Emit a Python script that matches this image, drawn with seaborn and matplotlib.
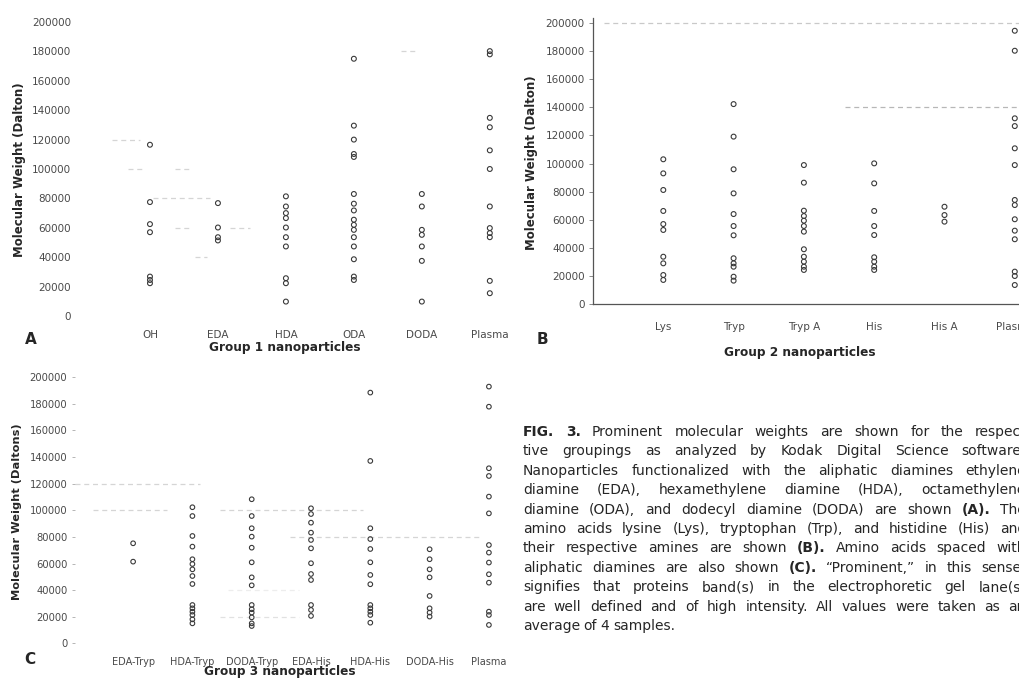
import numpy as np
import pandas as pd
import matplotlib
matplotlib.use("Agg")
import matplotlib.pyplot as plt
import seaborn as sns

# ---------------- data ----------------
# Panel A: Group 1 nanoparticles
a_categories = ["OH", "EDA", "HDA", "ODA", "DODA", "Plasma"]
a_oh = [116500, 77500, 62500, 57000, 26800, 24500, 22300]
a_eda = [76800, 60200, 53600, 51400]
a_hda = [81400, 74500, 70000, 66600, 60200, 53600, 47300, 25700, 22300, 9800]
a_oda = [175000, 129500, 120000, 110200, 108200, 83000, 76400, 71800, 65500,
         62000, 58600, 53600, 47300, 38600, 26800, 24500]
a_doda = [83000, 74500, 58600, 55200, 47300, 37500, 9800]
a_plasma = [180200, 178000, 134800, 128400, 112700, 100000, 74500, 59800,
            56400, 53600, 23900, 15500]

# Panel B: Group 2 nanoparticles
b_categories = ["Lys", "Tryp", "Tryp A", "His", "His A", "Plasma"]
b_lys = [103000, 93000, 81200, 66300, 57000, 52800, 33800, 29100, 20800, 17300]
b_tryp = [142200, 119100, 95900, 78800, 64100, 55600, 49000, 32700, 29100,
          26700, 19600, 16800]
b_tryp_a = [98900, 86400, 66500, 62700, 59400, 55600, 51600, 39100, 33800,
            30300, 26700, 24400]
b_his = [100100, 85900, 66300, 55600, 49200, 33400, 30300, 26700, 24400]
b_his_a = [69300, 63400, 58700]
b_plasma = [194300, 180100, 132100, 126600, 110800, 98900, 74100, 70500,
            60400, 52300, 46200, 23200, 20100, 13700]

# Panel C: Group 3 nanoparticles
c_categories = ["EDA-Tryp", "HDA-Tryp", "DODA-Tryp", "EDA-His", "HDA-His",
                "DODA-His", "Plasma"]
c_eda_tryp = [75200, 61400]
c_hda_tryp = [102300, 95700, 80700, 72700, 63200, 59600, 55600, 50600, 44600,
              28800, 26300, 23800, 21300, 18000, 15000]
c_doda_tryp = [108300, 95700, 86500, 80200, 71900, 60900, 49600, 43600, 28800,
               25600, 23100, 19500, 15000, 13000]
c_eda_his = [101500, 97200, 90700, 83200, 77700, 71400, 60200, 52100, 47600,
             28800, 25100, 20600]
c_hda_his = [188500, 137100, 86500, 78400, 70900, 60900, 51400, 44400, 28800,
             26300, 23800, 21300, 15500]
c_doda_his = [70700, 63200, 55600, 49600, 35600, 26300, 23100, 20100]
c_plasma = [193000, 177900, 131600, 125800, 110300, 97700, 73900, 68200,
            60700, 51900, 45600, 23800, 21300, 13800]

y_ticks = list(range(0, 200001, 20000))

caption_lines = [
    "FIG. 3. Prominent molecular weights are shown for the respec-",
    "tive groupings as analyzed by Kodak Digital Science software.",
    "Nanoparticles functionalized with the aliphatic diamines ethylene",
    "diamine (EDA), hexamethylene diamine (HDA), octamethylene",
    "diamine (ODA), and dodecyl diamine (DODA) are shown (A). The",
    "amino acids lysine (Lys), tryptophan (Trp), and histidine (His) and",
    "their respective amines are shown (B). Amino acids spaced with",
    "aliphatic diamines are also shown (C). \u201cProminent,\u201d in this sense,",
    "signifies that proteins band(s) in the electrophoretic gel lane(s)",
    "are well defined and of high intensity. All values were taken as an",
    "average of 4 samples.",
]
bold_words = {"FIG.", "3.", "(A).", "(B).", "(C)."}

# ---------------- style ----------------
sns.set_style("white")
plt.rcParams["font.family"] = ["DejaVu Sans"]

W, H = 1019, 679
fig = plt.figure(figsize=(W / 100, H / 100), dpi=100)
fig.patch.set_facecolor("white")

TXT = "#262626"
TICK = "#4a4a4a"
PT = "#3a3a3a"


def px_axes(left, top, right, bottom):
    return fig.add_axes([left / W, 1 - bottom / H, (right - left) / W, (bottom - top) / H])


def long_df(cats, vals):
    return pd.DataFrame({
        "cat": np.repeat(cats, [len(v) for v in vals]),
        "mw": np.concatenate([np.asarray(v, float) for v in vals]),
    })


def strip(ax, cats, vals, size=3.5):
    df = long_df(cats, vals)
    sns.stripplot(data=df, x="cat", y="mw", order=cats, jitter=False,
                  size=size, color=PT, linewidth=0.8, edgecolor=PT, ax=ax,
                  zorder=3)
    for c in ax.collections:
        c.set_facecolor("none")
        c.set_edgecolor(PT)
        c.set_linewidth(0.8)
    ax.set_xlabel("")
    ax.set_ylabel("")
    ax.set_yticks(y_ticks)
    ax.set_yticklabels([str(v) for v in y_ticks])


def faint(ax, y, x0, x1, alpha=0.35, lw=0.9):
    ax.hlines(y, x0, x1, colors="#888888", linestyles=(0, (4, 3)),
              linewidth=lw, alpha=alpha, zorder=1)


# ---------------- Panel A ----------------
axA = px_axes(82, 17.6, 517, 320.4)
strip(axA, a_categories, [a_oh, a_eda, a_hda, a_oda, a_doda, a_plasma])
axA.set_xlim(-1.0, 5.4)
axA.set_ylim(-3000, 203000)
sns.despine(ax=axA, left=True, bottom=True)
axA.tick_params(axis="both", length=0, labelsize=7.5, labelcolor=TICK)
axA.tick_params(axis="y", pad=8)
axA.tick_params(axis="x", pad=7)
faint(axA, 120000, -0.56, -0.15)
faint(axA, 100000, -0.32, -0.1)
faint(axA, 100000, 0.37, 0.59)
faint(axA, 80000, 0.05, 0.88)
faint(axA, 60000, 0.37, 0.59)
faint(axA, 60000, 1.18, 1.47)
faint(axA, 40000, 0.66, 0.84)
faint(axA, 180000, 3.7, 3.95)
fig.text(20 / W, 1 - 170 / H, "Molecular Weight (Dalton)", rotation=90,
         ha="center", va="center", fontsize=8.5, fontweight="bold", color=TXT)
fig.text(285 / W, 1 - 348 / H, "Group 1 nanoparticles", ha="center",
         va="center", fontsize=8.7, fontweight="bold", color=TXT)
fig.text(31 / W, 1 - 339 / H, "A", ha="center", va="center", fontsize=11,
         fontweight="bold", color=TXT)

# ---------------- Panel B ----------------
axB = px_axes(593, 18.5, 1019, 304.3)
strip(axB, b_categories, [b_lys, b_tryp, b_tryp_a, b_his, b_his_a, b_plasma])
axB.set_xlim(-1.0, 5.06)
axB.set_ylim(0, 203000)
sns.despine(ax=axB, top=True, right=True)
for s in ("left", "bottom"):
    axB.spines[s].set_color("#555555")
    axB.spines[s].set_linewidth(0.9)
axB.tick_params(axis="y", length=3, width=0.6, color="#777777",
                labelsize=7.5, labelcolor=TICK, pad=3, left=True)
axB.tick_params(axis="x", length=0, labelsize=7.5, labelcolor=TICK, pad=13)
faint(axB, 200000, -0.85, 5.06, alpha=0.45)
faint(axB, 140000, 2.59, 5.06, alpha=0.6)
fig.text(532 / W, 1 - 163 / H, "Molecular Weight (Dalton)", rotation=90,
         ha="center", va="center", fontsize=8.5, fontweight="bold", color=TXT)
fig.text(800 / W, 1 - 352 / H, "Group 2 nanoparticles", ha="center",
         va="center", fontsize=8.7, fontweight="bold", color=TXT)
fig.text(542 / W, 1 - 340 / H, "B", ha="center", va="center", fontsize=11,
         fontweight="bold", color=TXT)

# ---------------- Panel C ----------------
axC = px_axes(75, 373.3, 515, 647.3)
strip(axC, c_categories, [c_eda_tryp, c_hda_tryp, c_doda_tryp, c_eda_his,
                          c_hda_his, c_doda_his, c_plasma], size=3.3)
axC.set_xlim(-0.98, 6.44)
axC.set_ylim(-3000, 203000)
sns.despine(ax=axC, left=True, bottom=True)
axC.tick_params(axis="y", length=2.5, width=0.6, color="#aaaaaa",
                labelsize=7.2, labelcolor=TICK, pad=3, left=True)
axC.tick_params(axis="x", length=0, labelsize=7.0, labelcolor=TICK, pad=7)
faint(axC, 120000, -0.98, 1.13)
faint(axC, 100000, -0.67, 0.57)
faint(axC, 100000, 1.47, 3.88)
faint(axC, 80000, 2.65, 5.85)
faint(axC, 20000, 1.47, 2.8, alpha=0.25)
faint(axC, 40000, 1.6, 2.8, alpha=0.15)
fig.text(17 / W, 1 - 512 / H, "Molecular Weight (Daltons)", rotation=90,
         ha="center", va="center", fontsize=8.2, fontweight="bold", color=TXT)
fig.text(280 / W, 1 - 672 / H, "Group 3 nanoparticles", ha="center",
         va="center", fontsize=8.7, fontweight="bold", color=TXT)
fig.text(30 / W, 1 - 660 / H, "C", ha="center", va="center", fontsize=11,
         fontweight="bold", color=TXT)

# ---------------- Caption (justified) ----------------
renderer = fig.canvas.get_renderer()
cap_left, cap_right = 523, 1026
cap_fs = 10
for i, line in enumerate(caption_lines):
    base = 436 + 19.4 * i
    words = line.split(" ")
    items = []
    for w in words:
        t = fig.text(0, 1 - base / H, w, fontsize=cap_fs, color=TXT,
                     va="baseline", ha="left",
                     fontweight="bold" if w in bold_words else "normal")
        wid = t.get_window_extent(renderer).width
        items.append((t, wid))
    if i < len(caption_lines) - 1 and len(items) > 1:
        gap = (cap_right - cap_left - sum(w for _, w in items)) / (len(items) - 1)
    else:
        gap = 3.5
    x = cap_left
    for t, wid in items:
        t.set_x(x / W)
        x += wid + gap

fig.savefig("out.png", dpi=100, facecolor="white")
